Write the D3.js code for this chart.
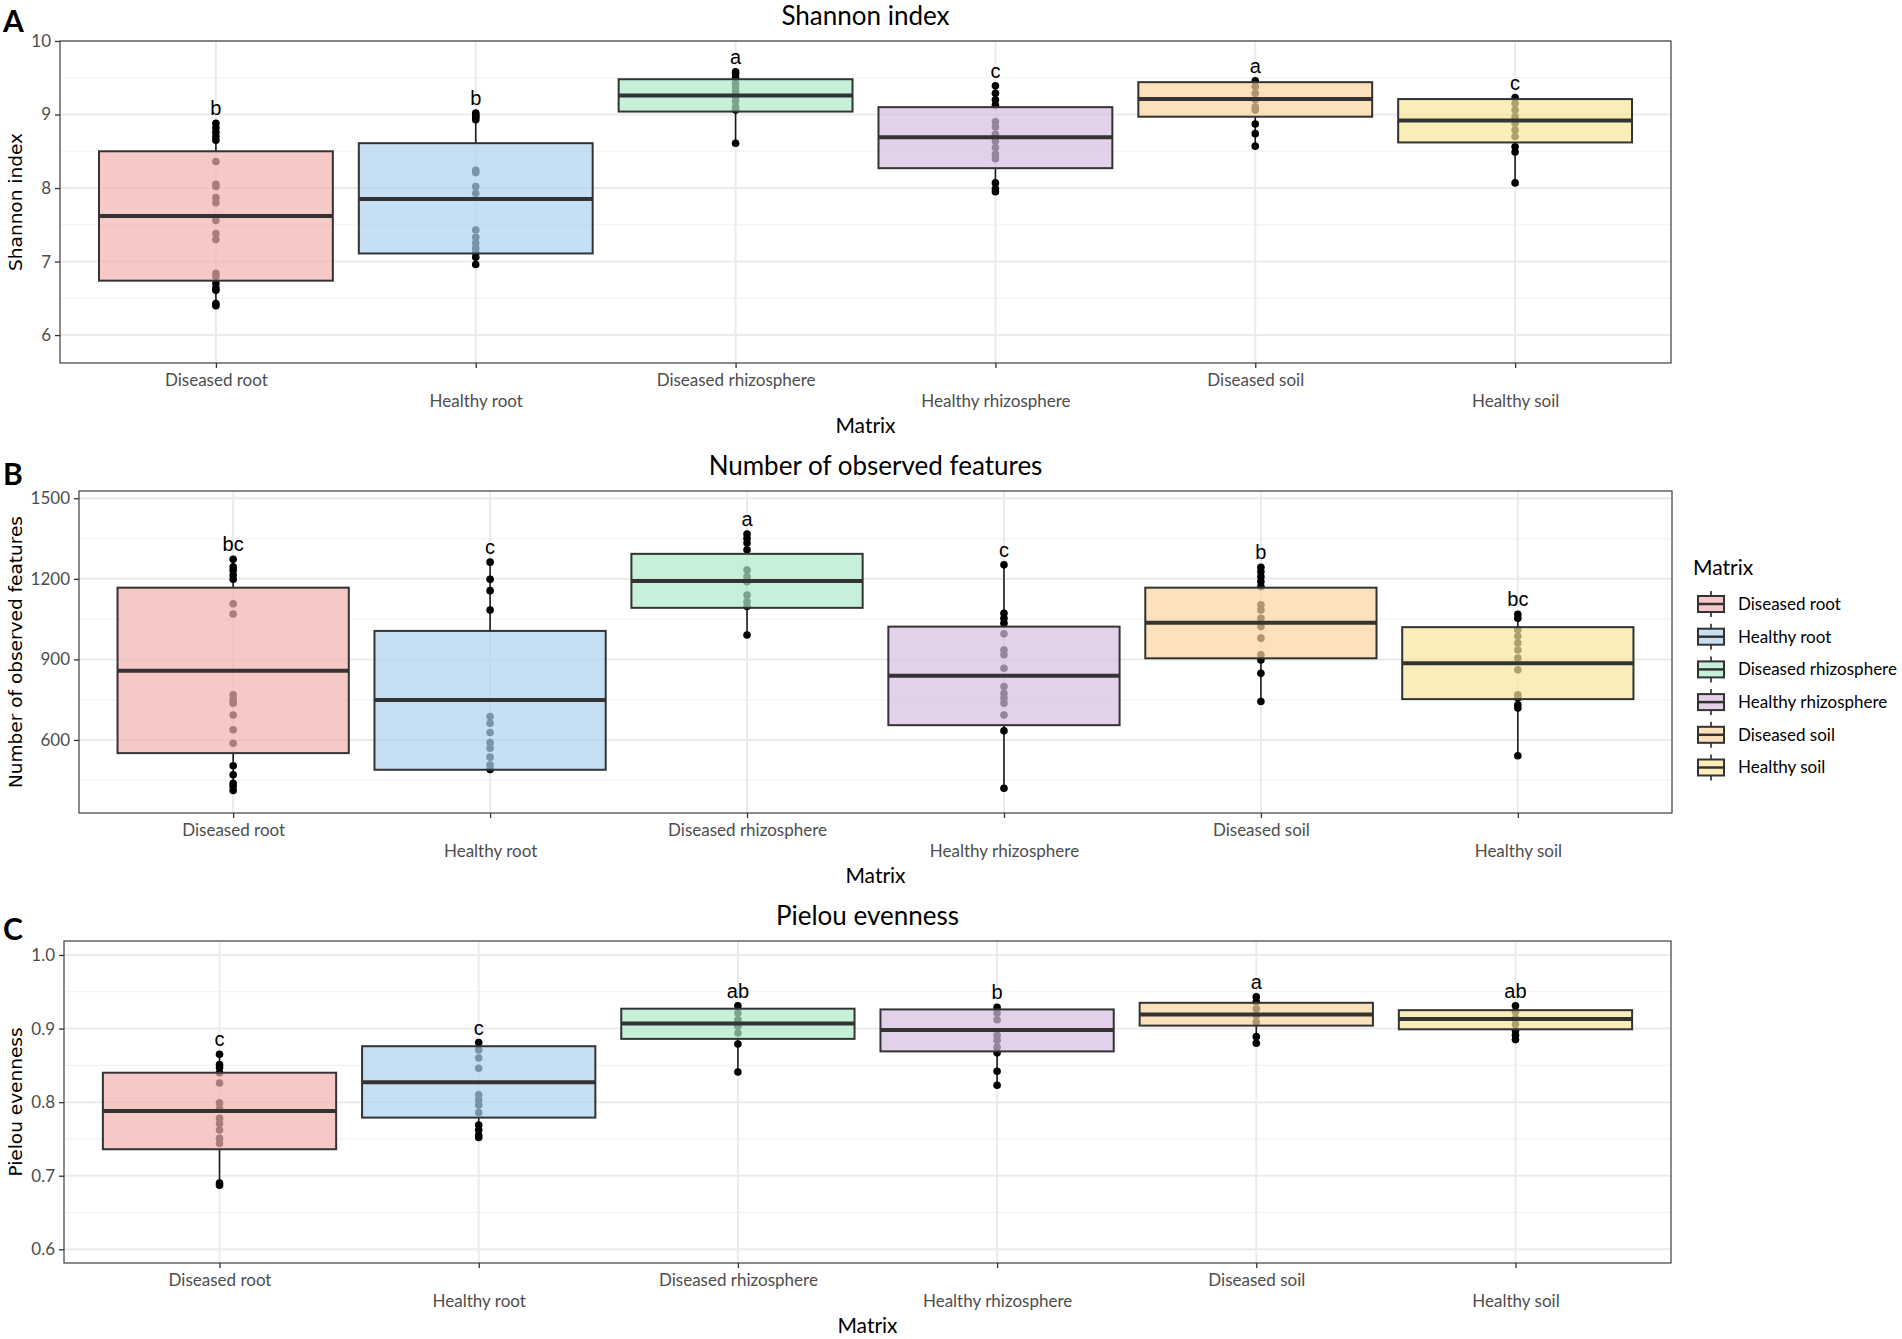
<!DOCTYPE html>
<html lang="en">
<head>
<meta charset="UTF-8">
<script src="https://cdn.jsdelivr.net/npm/d3@7"></script>
<title>Alpha diversity</title>
<style>
  body { margin: 0; background: #fff; }
  svg text { font-family: Lato, "Open Sans", sans-serif; }
  .tick-lab { fill: #4d4d4d; font-size: 17px; }
  .ytitle { font-family: "DejaVu Sans", sans-serif !important; font-size: 18.5px; fill: #000; }
  .cld { font-family: "Liberation Sans", Arial, sans-serif !important; font-size: 20px; fill: #000; }
</style>
</head>
<body>
<div id="chart"></div>
<script>
// groups, in plotting order
var categories = ["Diseased root", "Healthy root", "Diseased rhizosphere",
                  "Healthy rhizosphere", "Diseased soil", "Healthy soil"];
var fillColors = ["#f2b2af", "#aed1ee", "#afeac9", "#d6bde0", "#f9d5a1", "#f7e59b"];

// A - Shannon index
var shannonQ1 = [6.74, 7.11, 9.04, 8.27, 8.97, 8.62];
var shannonMedian = [7.62, 7.85, 9.26, 8.69, 9.21, 8.92];
var shannonQ3 = [8.50, 8.61, 9.48, 9.10, 9.44, 9.21];
var shannonPoints = [
  [8.88, 8.82, 8.76, 8.70, 8.65, 8.36, 8.05, 8.02, 7.87, 7.80, 7.56, 7.38, 7.30, 6.84, 6.80, 6.70, 6.64, 6.61, 6.43, 6.40],
  [9.02, 9.00, 8.98, 8.96, 8.93, 8.24, 8.21, 8.02, 7.93, 7.43, 7.33, 7.25, 7.18, 7.12, 7.06, 6.96],
  [9.58, 9.55, 9.50, 9.42, 9.36, 9.30, 9.24, 9.18, 9.10, 9.06, 8.61],
  [9.39, 9.29, 9.20, 9.13, 8.90, 8.83, 8.73, 8.64, 8.55, 8.46, 8.40, 8.07, 7.99, 7.95],
  [9.46, 9.38, 9.29, 9.20, 9.10, 9.06, 8.87, 8.74, 8.57],
  [9.23, 9.15, 9.06, 8.97, 8.88, 8.79, 8.70, 8.56, 8.49, 8.07]
];
var shannonLetters = ["b", "b", "a", "c", "a", "c"];
var shannonTicks = [6, 7, 8, 9, 10];
var shannonMinor = [6.5, 7.5, 8.5, 9.5];

// B - observed features
var featuresQ1 = [551, 489, 1092, 655, 904, 752];
var featuresMedian = [858, 749, 1192, 839, 1036, 886];
var featuresQ3 = [1167, 1006, 1293, 1022, 1167, 1020];
var featuresPoints = [
  [1273, 1245, 1232, 1214, 1198, 1107, 1069, 768, 750, 737, 693, 638, 588, 504, 470, 439, 428, 412],
  [1262, 1198, 1156, 1084, 687, 662, 628, 590, 569, 536, 507, 490],
  [1367, 1351, 1333, 1308, 1233, 1208, 1189, 1140, 1115, 1097, 991],
  [1252, 1072, 1053, 1035, 995, 935, 917, 867, 799, 774, 756, 737, 693, 634, 420],
  [1243, 1227, 1208, 1190, 1171, 1103, 1084, 1053, 1022, 979, 917, 898, 848, 743],
  [1068, 1053, 1010, 986, 961, 935, 905, 861, 768, 756, 731, 719, 541]
];
var featuresLetters = ["bc", "c", "a", "c", "b", "bc"];
var featuresTicks = [600, 900, 1200, 1500];
var featuresMinor = [450, 750, 1050, 1350];

// C - Pielou evenness
var pielouQ1 = [0.736, 0.779, 0.886, 0.869, 0.904, 0.899];
var pielouMedian = [0.788, 0.827, 0.907, 0.898, 0.919, 0.913];
var pielouQ3 = [0.840, 0.876, 0.927, 0.926, 0.935, 0.925];
var pielouPoints = [
  [0.865, 0.851, 0.847, 0.840, 0.826, 0.799, 0.791, 0.778, 0.771, 0.762, 0.751, 0.744, 0.690, 0.687],
  [0.881, 0.871, 0.860, 0.846, 0.810, 0.803, 0.796, 0.786, 0.769, 0.762, 0.755, 0.752],
  [0.931, 0.921, 0.912, 0.903, 0.894, 0.879, 0.841],
  [0.929, 0.921, 0.912, 0.891, 0.884, 0.875, 0.867, 0.842, 0.823],
  [0.943, 0.936, 0.927, 0.918, 0.909, 0.889, 0.880],
  [0.931, 0.923, 0.914, 0.906, 0.897, 0.891, 0.885]
];
var pielouLetters = ["c", "c", "ab", "b", "a", "ab"];
var pielouTicks = [0.6, 0.7, 0.8, 0.9, 1.0];
var pielouMinor = [0.65, 0.75, 0.85, 0.95];

var W = 1902, H = 1339;
var svg = d3.select("#chart").append("svg")
    .attr("width", W).attr("height", H);

var panels = [
  {tag: "A", title: "Shannon index", ytitle: "Shannon index",
   q1: shannonQ1, med: shannonMedian, q3: shannonQ3, pts: shannonPoints, letters: shannonLetters,
   ticks: shannonTicks, minor: shannonMinor, domain: [5.62, 10.0], fmt: d3.format("d"),
   left: 60, right: 1671, top: 41, bottom: 363, tagY: 32},
  {tag: "B", title: "Number of observed features", ytitle: "Number of observed features",
   q1: featuresQ1, med: featuresMedian, q3: featuresQ3, pts: featuresPoints, letters: featuresLetters,
   ticks: featuresTicks, minor: featuresMinor, domain: [328, 1527], fmt: d3.format("d"),
   left: 79, right: 1672, top: 491, bottom: 813, tagY: 485},
  {tag: "C", title: "Pielou evenness", ytitle: "Pielou evenness",
   q1: pielouQ1, med: pielouMedian, q3: pielouQ3, pts: pielouPoints, letters: pielouLetters,
   ticks: pielouTicks, minor: pielouMinor, domain: [0.5814, 1.019], fmt: d3.format(".1f"),
   left: 64, right: 1671, top: 941, bottom: 1263, tagY: 940}
];

panels.forEach(function(p) {
  var x = d3.scalePoint().domain(categories).range([p.left, p.right]).padding(0.6);
  var y = d3.scaleLinear().domain(p.domain).range([p.bottom, p.top]);
  var bw = x.step() * 0.9;
  var g = svg.append("g");

  // grid
  g.selectAll(".minor").data(p.minor).enter().append("line")
      .attr("x1", p.left).attr("x2", p.right)
      .attr("y1", function(d) { return y(d); }).attr("y2", function(d) { return y(d); })
      .attr("stroke", "#f3f3f3").attr("stroke-width", 1.2);
  g.selectAll(".major").data(p.ticks).enter().append("line")
      .attr("x1", p.left).attr("x2", p.right)
      .attr("y1", function(d) { return y(d); }).attr("y2", function(d) { return y(d); })
      .attr("stroke", "#ebebeb").attr("stroke-width", 2);
  g.selectAll(".vgrid").data(categories).enter().append("line")
      .attr("x1", function(d) { return x(d); }).attr("x2", function(d) { return x(d); })
      .attr("y1", p.top).attr("y2", p.bottom)
      .attr("stroke", "#ebebeb").attr("stroke-width", 2);

  categories.forEach(function(c, i) {
    var cx = x(c), pts = p.pts[i];
    var iqr = p.q3[i] - p.q1[i];
    var hi = d3.max(pts.filter(function(v) { return v <= p.q3[i] + 1.5 * iqr; }));
    var lo = d3.min(pts.filter(function(v) { return v >= p.q1[i] - 1.5 * iqr; }));
    hi = Math.max(hi, p.q3[i]); lo = Math.min(lo, p.q1[i]);

    // whiskers
    g.append("line").attr("x1", cx).attr("x2", cx)
        .attr("y1", y(p.q3[i])).attr("y2", y(hi))
        .attr("stroke", "#1a1a1a").attr("stroke-width", 1.6);
    g.append("line").attr("x1", cx).attr("x2", cx)
        .attr("y1", y(p.q1[i])).attr("y2", y(lo))
        .attr("stroke", "#1a1a1a").attr("stroke-width", 1.6);

    // points under the box
    g.selectAll(null).data(pts).enter().append("circle")
        .attr("cx", cx).attr("cy", function(d) { return y(d); })
        .attr("r", 3.8).attr("fill", "#000");

    // box
    g.append("rect")
        .attr("x", cx - bw / 2).attr("width", bw)
        .attr("y", y(p.q3[i])).attr("height", y(p.q1[i]) - y(p.q3[i]))
        .attr("fill", fillColors[i]).attr("fill-opacity", 0.7)
        .attr("stroke", "#333").attr("stroke-width", 2);
    g.append("line")
        .attr("x1", cx - bw / 2).attr("x2", cx + bw / 2)
        .attr("y1", y(p.med[i])).attr("y2", y(p.med[i]))
        .attr("stroke", "#333").attr("stroke-width", 4);

    // compact letter display
    g.append("text").attr("class", "cld")
        .attr("x", cx).attr("y", y(d3.max(pts)) - 8)
        .attr("text-anchor", "middle")
        .text(p.letters[i]);
  });

  // panel border
  g.append("rect").attr("x", p.left).attr("y", p.top)
      .attr("width", p.right - p.left).attr("height", p.bottom - p.top)
      .attr("fill", "none").attr("stroke", "#4d4d4d").attr("stroke-width", 1.3);

  // y axis
  var yAxis = g.append("g").attr("transform", "translate(" + p.left + ",0)")
      .call(d3.axisLeft(y).tickValues(p.ticks).tickFormat(p.fmt).tickSize(5).tickPadding(4));
  yAxis.select(".domain").remove();
  yAxis.selectAll(".tick line").attr("stroke", "#333").attr("stroke-width", 1.3);
  yAxis.selectAll(".tick text").attr("class", "tick-lab").attr("font-size", null).attr("fill", null);

  // x axis, labels dodged on two rows
  var xAxis = g.append("g").attr("transform", "translate(0," + p.bottom + ")")
      .call(d3.axisBottom(x).tickSize(5).tickSizeOuter(0));
  xAxis.select(".domain").remove();
  xAxis.selectAll(".tick line").attr("stroke", "#333").attr("stroke-width", 1.3);
  xAxis.selectAll(".tick text").attr("class", "tick-lab").attr("font-size", null).attr("fill", null)
      .attr("dy", null)
      .attr("y", function(d, i) { return i % 2 === 0 ? 23 : 44; });

  // titles
  g.append("text").attr("x", (p.left + p.right) / 2).attr("y", p.top - 16)
      .attr("text-anchor", "middle").attr("font-size", 26).text(p.title);
  g.append("text").attr("x", (p.left + p.right) / 2).attr("y", p.bottom + 70)
      .attr("text-anchor", "middle").attr("font-size", 21).text("Matrix");
  g.append("text").attr("class", "ytitle")
      .attr("transform", "translate(22," + (p.top + p.bottom) / 2 + ") rotate(-90)")
      .attr("text-anchor", "middle").text(p.ytitle);
  g.append("text").attr("x", 3).attr("y", p.tagY)
      .attr("font-size", 30).attr("font-weight", "bold").text(p.tag);
});

// legend (beside panel B)
var legend = svg.append("g").attr("transform", "translate(1693,575)");
legend.append("text").attr("x", 0).attr("y", 0).attr("font-size", 21).text("Matrix");
var rows = legend.selectAll(".row").data(categories).enter().append("g")
    .attr("transform", function(d, i) { return "translate(5," + (29 + i * 32.7) + ")"; });
rows.append("line").attr("x1", 13).attr("x2", 13).attr("y1", -13).attr("y2", 13)
    .attr("stroke", "#1a1a1a").attr("stroke-width", 1.5);
rows.append("rect").attr("x", 0).attr("y", -8).attr("width", 26).attr("height", 16)
    .attr("fill", "#fff").attr("stroke", "none");
rows.append("rect").attr("x", 0).attr("y", -8).attr("width", 26).attr("height", 16)
    .attr("fill", function(d, i) { return fillColors[i]; }).attr("fill-opacity", 0.7)
    .attr("stroke", "#333").attr("stroke-width", 2);
rows.append("line").attr("x1", 0).attr("x2", 26).attr("y1", 0).attr("y2", 0)
    .attr("stroke", "#333").attr("stroke-width", 2.5);
rows.append("text").attr("x", 40).attr("y", 0).attr("dy", "0.35em")
    .attr("font-size", 17).text(function(d) { return d; });
</script>
</body>
</html>
